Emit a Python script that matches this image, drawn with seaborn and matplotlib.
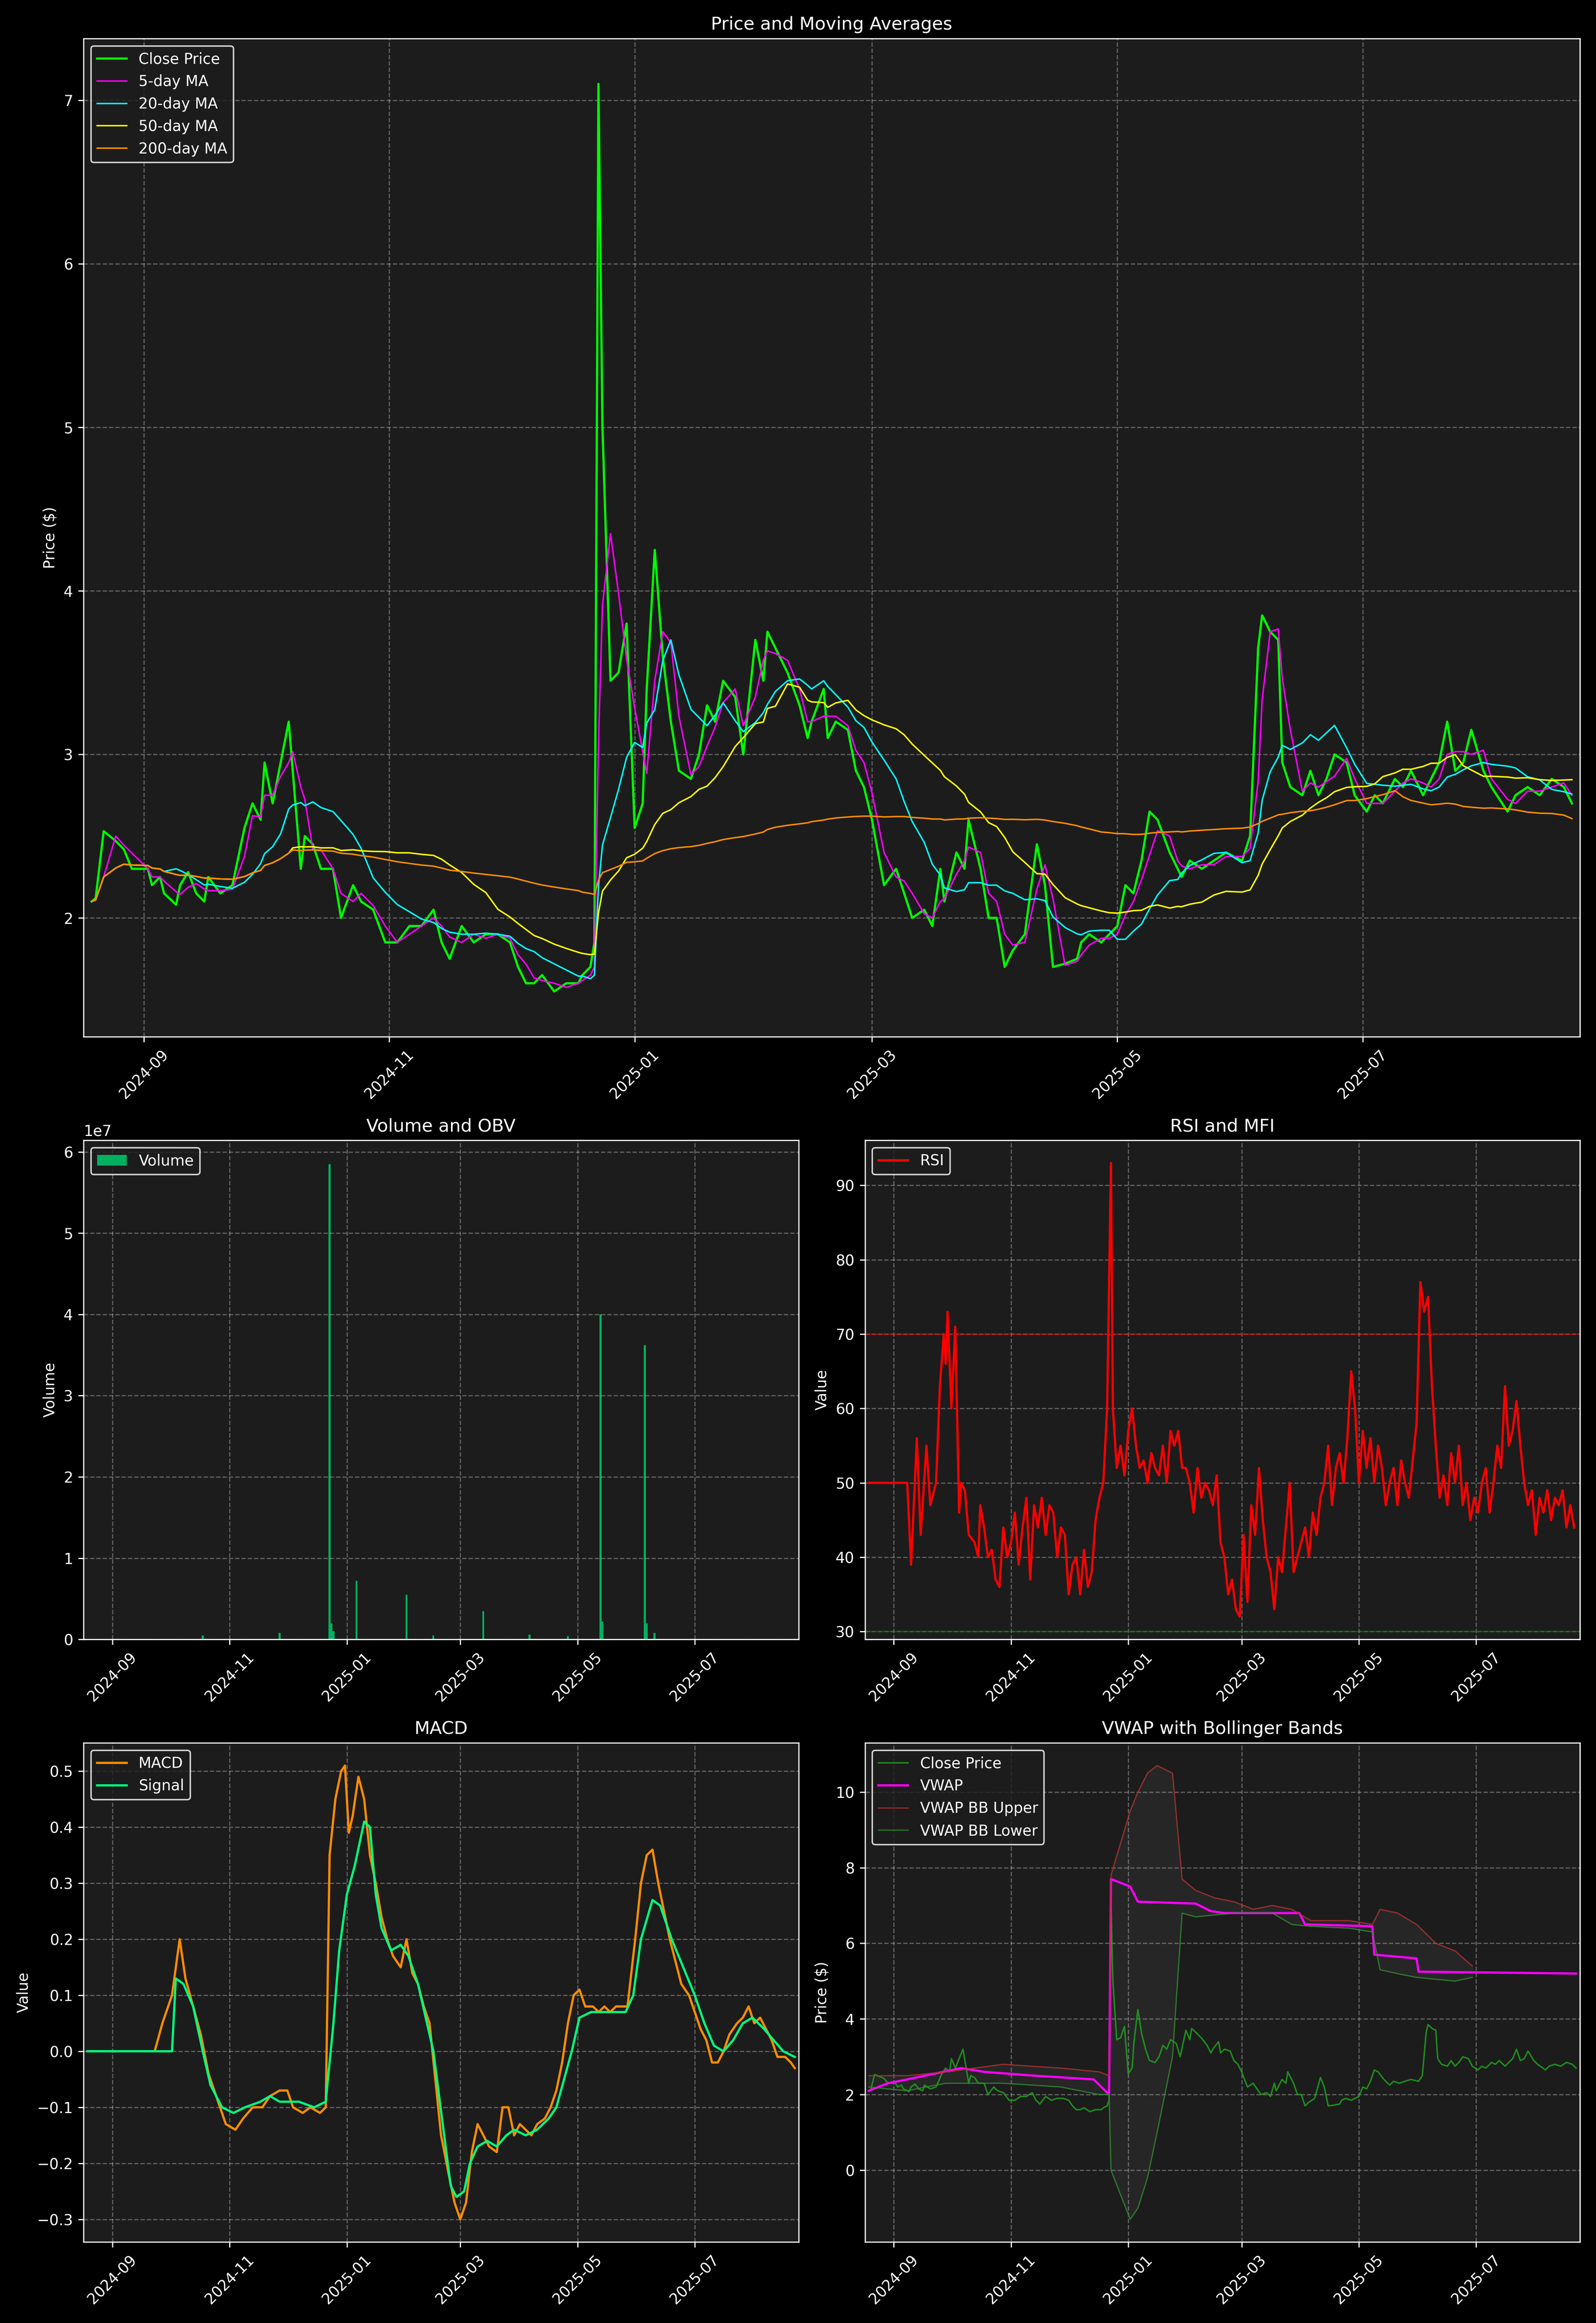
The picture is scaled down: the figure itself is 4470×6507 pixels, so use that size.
import numpy as np
import pandas as pd
import seaborn as sns
import matplotlib.pyplot as plt
import matplotlib.dates as mdates

START = pd.Timestamp('2024-08-19')

# close price (day offset from START, price)
close_days = [0, 1, 3, 6, 8, 10, 14, 15, 17, 18,
              21, 22, 24, 26, 28, 29, 32, 35, 38, 40,
              42, 43, 45, 47, 49, 50, 52, 53, 55, 57,
              60, 62, 65, 67, 70, 73, 76, 79, 82, 85,
              87, 89, 92, 95, 98, 101, 104, 106, 108, 110,
              112, 115, 118, 121, 122, 124, 125, 126, 127, 129,
              131, 133, 135, 137, 138, 140, 142, 144, 146, 149,
              151, 153, 155, 157, 160, 162, 165, 167, 168, 170,
              173, 176, 178, 179, 182, 183, 185, 188, 190, 192,
              194, 197, 200, 202, 204, 207, 209, 211, 212, 215,
              217, 218, 221, 223, 225, 227, 229, 232, 235, 237,
              239, 242, 245, 246, 248, 251, 253, 255, 257, 259,
              261, 263, 265, 268, 270, 271, 273, 276, 279, 282,
              286, 288, 290, 291, 293, 295, 296, 298, 301, 303,
              305, 307, 309, 312, 314, 317, 319, 321, 324, 326,
              328, 331, 333, 335, 337, 339, 341, 343, 346, 348,
              352, 354, 357, 360, 363, 366, 368]
close_vals = [2.1, 2.12, 2.53, 2.47, 2.42, 2.3, 2.3, 2.2, 2.25, 2.15,
              2.08, 2.2, 2.28, 2.15, 2.1, 2.25, 2.15, 2.2, 2.55, 2.7,
              2.6, 2.95, 2.7, 2.95, 3.2, 2.9, 2.3, 2.5, 2.45, 2.3,
              2.3, 2.0, 2.2, 2.1, 2.05, 1.85, 1.85, 1.95, 1.95, 2.05,
              1.85, 1.75, 1.95, 1.85, 1.9, 1.9, 1.85, 1.7, 1.6, 1.6,
              1.65, 1.55, 1.6, 1.6, 1.65, 1.7, 1.85, 7.1, 5.0, 3.45,
              3.5, 3.8, 2.55, 2.7, 3.4, 4.25, 3.6, 3.2, 2.9, 2.85,
              3.0, 3.3, 3.2, 3.45, 3.35, 3.0, 3.7, 3.45, 3.75, 3.65,
              3.5, 3.3, 3.1, 3.2, 3.4, 3.1, 3.2, 3.15, 2.9, 2.8,
              2.6, 2.2, 2.3, 2.15, 2.0, 2.05, 1.95, 2.3, 2.1, 2.4,
              2.3, 2.6, 2.3, 2.0, 2.0, 1.7, 1.8, 1.9, 2.45, 2.2,
              1.7, 1.72, 1.75, 1.85, 1.9, 1.85, 1.9, 1.95, 2.2, 2.15,
              2.35, 2.65, 2.6, 2.4, 2.3, 2.25, 2.35, 2.3, 2.35, 2.4,
              2.35, 2.5, 3.65, 3.85, 3.75, 3.7, 2.95, 2.8, 2.75, 2.9,
              2.75, 2.85, 3.0, 2.95, 2.75, 2.65, 2.75, 2.7, 2.85, 2.8,
              2.9, 2.75, 2.85, 2.95, 3.2, 2.9, 2.95, 3.15, 2.9, 2.8,
              2.65, 2.75, 2.8, 2.75, 2.85, 2.8, 2.7]

vol_days = [60, 100, 126, 127, 128, 140, 166, 180, 206, 230, 250, 267, 268, 290, 291, 295]
vol_vals = [0.05e7, 0.08e7, 5.85e7, 0.2e7, 0.1e7, 0.72e7, 0.55e7, 0.05e7, 0.35e7, 0.06e7,
            0.04e7, 4.0e7, 0.22e7, 3.62e7, 0.2e7, 0.08e7]

rsi_days = [0, 20, 22, 25, 27, 30, 32, 35, 37, 39, 40, 41, 43, 45, 47, 48, 50, 52, 55, 57,
            58, 60, 62, 64, 66, 68, 70, 72, 74, 76, 78, 80, 82, 84, 86, 88, 90, 92, 94, 96,
            98, 100, 102, 104, 106, 108, 110, 112, 114, 116, 118, 120, 122, 124, 126, 127, 129, 131, 133, 135,
            137, 139, 141, 143, 145, 147, 149, 151, 153, 155, 157, 159, 161, 163, 165, 167, 169, 171, 173, 175,
            177, 179, 181, 183, 185, 187, 189, 191, 193, 195, 197, 199, 201, 203, 205, 207, 209, 211, 213, 215,
            217, 219, 221, 223, 225, 227, 229, 231, 233, 235, 237, 239, 241, 243, 245, 247, 249, 251, 253, 255,
            257, 259, 261, 263, 265, 267, 269, 271, 273, 275, 277, 279, 281, 285, 287, 289, 291, 293, 295, 297,
            299, 301, 303, 305, 307, 309, 311, 313, 315, 317, 319, 321, 323, 325, 327, 329, 331, 333, 335, 337,
            339, 341, 343, 345, 347, 349, 351, 353, 355, 357, 359, 361, 363, 365, 367]
rsi_vals = [50, 50, 39, 56, 43, 55, 47, 50, 63, 70, 66, 73, 60, 71, 46, 50, 49, 43, 42, 40,
            47, 44, 40, 41, 37, 36, 44, 40, 42, 46, 39, 44, 48, 37, 47, 44, 48, 43, 47, 46,
            40, 44, 43, 35, 39, 40, 35, 41, 36, 38, 45, 48, 50, 60, 93, 60, 52, 55, 51, 57,
            60, 55, 52, 53, 50, 54, 52, 51, 55, 50, 57, 55, 57, 52, 52, 50, 46, 52, 48, 50,
            49, 47, 51, 42, 40, 35, 37, 33, 32, 43, 34, 47, 43, 52, 45, 40, 38, 33, 40, 38,
            44, 50, 38, 40, 42, 44, 40, 46, 43, 48, 50, 55, 47, 52, 54, 50, 56, 65, 60, 50,
            57, 52, 56, 50, 55, 52, 47, 50, 52, 47, 53, 50, 48, 58, 77, 73, 75, 63, 55, 48,
            51, 47, 54, 50, 55, 47, 50, 45, 48, 46, 50, 52, 46, 50, 55, 52, 63, 55, 57, 61,
            55, 50, 47, 49, 43, 48, 46, 49, 45, 48, 47, 49, 44, 47, 44]

macd_days = [0, 35, 39, 44, 48, 51, 55, 59, 63, 68, 72, 77, 81, 86, 91, 95, 100, 104, 107, 112,
             116, 121, 124, 126, 129, 132, 134, 136, 138, 141, 144, 147, 150, 153, 156, 159, 163, 166, 169, 172,
             175, 178, 181, 184, 188, 191, 194, 197, 200, 203, 206, 209, 213, 216, 219, 222, 225, 228, 231, 234,
             238, 241, 244, 247, 250, 253, 256, 259, 263, 266, 269, 272, 275, 278, 281, 285, 288, 291, 294, 297,
             300, 303, 306, 309, 313, 316, 319, 322, 325, 328, 331, 334, 338, 341, 344, 347, 350, 353, 356, 359,
             363, 366, 368]
macd_vals = [0, 0, 0.05, 0.1, 0.2, 0.13, 0.08, 0.03, -0.04, -0.09, -0.13, -0.14, -0.12, -0.1, -0.1, -0.08, -0.07, -0.07, -0.1, -0.11,
             -0.1, -0.11, -0.1, 0.35, 0.45, 0.5, 0.51, 0.39, 0.42, 0.49, 0.45, 0.35, 0.3, 0.24, 0.2, 0.17, 0.15, 0.2, 0.14, 0.12,
             0.08, 0.05, -0.05, -0.15, -0.22, -0.27, -0.3, -0.27, -0.18, -0.13, -0.15, -0.17, -0.18, -0.1, -0.1, -0.15, -0.13, -0.14, -0.15, -0.13,
             -0.12, -0.1, -0.07, -0.02, 0.05, 0.1, 0.11, 0.08, 0.08, 0.07, 0.08, 0.07, 0.08, 0.08, 0.08, 0.2, 0.3, 0.35, 0.36, 0.3,
             0.25, 0.2, 0.16, 0.12, 0.1, 0.07, 0.04, 0.02, -0.02, -0.02, 0.0, 0.03, 0.05, 0.06, 0.08, 0.05, 0.06, 0.04, 0.02, -0.01,
             -0.01, -0.02, -0.03]

signal_days = [0, 44, 46, 50, 55, 60, 64, 70, 76, 82, 90, 95, 100, 110, 118, 124, 128, 131, 135, 139,
               144, 147, 150, 153, 158, 163, 167, 172, 176, 180, 183, 186, 189, 192, 196, 199, 203, 208, 213, 218,
               222, 228, 234, 240, 244, 248, 252, 256, 262, 270, 280, 284, 288, 294, 298, 304, 310, 316, 321, 326,
               331, 336, 341, 346, 352, 357, 362, 368]
signal_vals = [0, 0, 0.13, 0.12, 0.08, 0.0, -0.06, -0.1, -0.11, -0.1, -0.09, -0.08, -0.09, -0.09, -0.1, -0.09, 0.05, 0.18, 0.28, 0.33,
               0.41, 0.4, 0.28, 0.22, 0.18, 0.19, 0.17, 0.12, 0.06, 0.0, -0.08, -0.16, -0.24, -0.26, -0.25, -0.2, -0.17, -0.16, -0.17, -0.15,
               -0.14, -0.15, -0.14, -0.12, -0.1, -0.05, 0.0, 0.06, 0.07, 0.07, 0.07, 0.1, 0.2, 0.27, 0.26, 0.2, 0.15, 0.1, 0.05, 0.01,
               0.0, 0.02, 0.05, 0.06, 0.04, 0.02, 0.0, -0.01]

vwap_days = [0, 10, 20, 48, 60, 86, 117, 125, 126, 136, 140, 170, 178, 185, 224, 227, 262, 263, 285, 286, 368]
vwap_vals = [2.1, 2.3, 2.4, 2.7, 2.6, 2.5, 2.4, 2.0, 7.7, 7.5, 7.1, 7.05, 6.85, 6.8, 6.8, 6.5, 6.45, 5.7, 5.6, 5.25, 5.2]

band_days = [0, 20, 40, 70, 100, 120, 125, 126, 136, 140, 145, 150, 158, 163, 170, 180, 190, 200, 210,
             220, 230, 250, 262, 266, 275, 285, 295, 305, 314]
upper_vals = [2.5, 2.5, 2.6, 2.8, 2.7, 2.6, 2.5, 7.8, 9.5, 10.0, 10.5, 10.7, 10.5, 7.7, 7.4, 7.2, 7.1, 6.9, 7.0,
              6.9, 6.6, 6.6, 6.5, 6.9, 6.8, 6.5, 6.0, 5.8, 5.4]
lower_vals = [2.2, 2.1, 2.3, 2.3, 2.2, 2.0, 2.0, 0.0, -1.3, -1.0, -0.2, 1.0, 3.0, 6.8, 6.7, 6.75, 6.8, 6.8, 6.8,
              6.5, 6.45, 6.4, 6.3, 5.3, 5.2, 5.1, 5.05, 5.0, 5.1]


def to_dates(days):
    return START + pd.to_timedelta(days, unit='D')


plt.style.use('dark_background')
plt.rcParams['font.family'] = ['DejaVu Sans']

close = pd.Series(close_vals, index=to_dates(close_days))
ma = {w: close.rolling(f'{w}D', min_periods=1).mean() for w in (5, 20, 50, 200)}

fig = plt.figure(figsize=(14.9, 21.69), dpi=300, facecolor='black')
gs = fig.add_gridspec(3, 2, height_ratios=[2, 1, 1])
ax_p = fig.add_subplot(gs[0, :])
ax_v = fig.add_subplot(gs[1, 0])
ax_r = fig.add_subplot(gs[1, 1])
ax_m = fig.add_subplot(gs[2, 0])
ax_w = fig.add_subplot(gs[2, 1])

# price + MAs
sns.lineplot(x=close.index, y=close.values, ax=ax_p, color='#00ff00', lw=1.5, label='Close Price')
ma_cols = {5: 'magenta', 20: 'cyan', 50: 'yellow', 200: 'darkorange'}
for w, c in ma_cols.items():
    sns.lineplot(x=ma[w].index, y=ma[w].values, ax=ax_p, color=c, lw=1, label=f'{w}-day MA')
ax_p.set_title('Price and Moving Averages')
ax_p.set_ylabel('Price ($)')

# volume
ax_v.bar(to_dates(vol_days), vol_vals, width=1.0, color='#00b060', label='Volume')
ax_v.set_title('Volume and OBV')
ax_v.set_ylabel('Volume')
ax_v.set_ylim(0, None)

# RSI
sns.lineplot(x=to_dates(rsi_days), y=rsi_vals, ax=ax_r, color='red', lw=1.5, label='RSI')
ax_r.axhline(70, color='red', alpha=0.5, lw=1)
ax_r.axhline(30, color='green', alpha=0.5, lw=1)
ax_r.set_title('RSI and MFI')
ax_r.set_ylabel('Value')

# MACD
sns.lineplot(x=to_dates(macd_days), y=macd_vals, ax=ax_m, color='darkorange', lw=1.5, label='MACD')
sns.lineplot(x=to_dates(signal_days), y=signal_vals, ax=ax_m, color='springgreen', lw=1.5, label='Signal')
ax_m.set_title('MACD')
ax_m.set_ylabel('Value')

# VWAP + bands
bd = to_dates(band_days)
sns.lineplot(x=close.index, y=close.values, ax=ax_w, color='#1fa81f', lw=1, alpha=0.8, label='Close Price')
sns.lineplot(x=to_dates(vwap_days), y=vwap_vals, ax=ax_w, color='magenta', lw=1.5, label='VWAP')
sns.lineplot(x=bd, y=upper_vals, ax=ax_w, color='#b03030', lw=0.8, alpha=0.8, label='VWAP BB Upper')
sns.lineplot(x=bd, y=lower_vals, ax=ax_w, color='#2e8b2e', lw=0.8, alpha=0.8, label='VWAP BB Lower')
ax_w.fill_between(bd, lower_vals, upper_vals, color='gray', alpha=0.1)
ax_w.set_title('VWAP with Bollinger Bands')
ax_w.set_ylabel('Price ($)')

x0, x1 = pd.Timestamp('2024-08-17'), pd.Timestamp('2025-08-24')
for ax in (ax_p, ax_v, ax_r, ax_m, ax_w):
    ax.set_facecolor('#1c1c1c')
    ax.grid(True, ls='--', color='white', alpha=0.3)
    ax.set_xlim(x0, x1)
    ax.set_xlabel('')
    ax.xaxis.set_major_locator(mdates.MonthLocator(bymonth=[1, 3, 5, 7, 9, 11]))
    ax.xaxis.set_major_formatter(mdates.DateFormatter('%Y-%m'))
    plt.setp(ax.get_xticklabels(), rotation=45)
    ax.legend(loc='upper left', facecolor='#1c1c1c', edgecolor='white')

fig.tight_layout()
fig.savefig('out.png', dpi=300, facecolor='black')
